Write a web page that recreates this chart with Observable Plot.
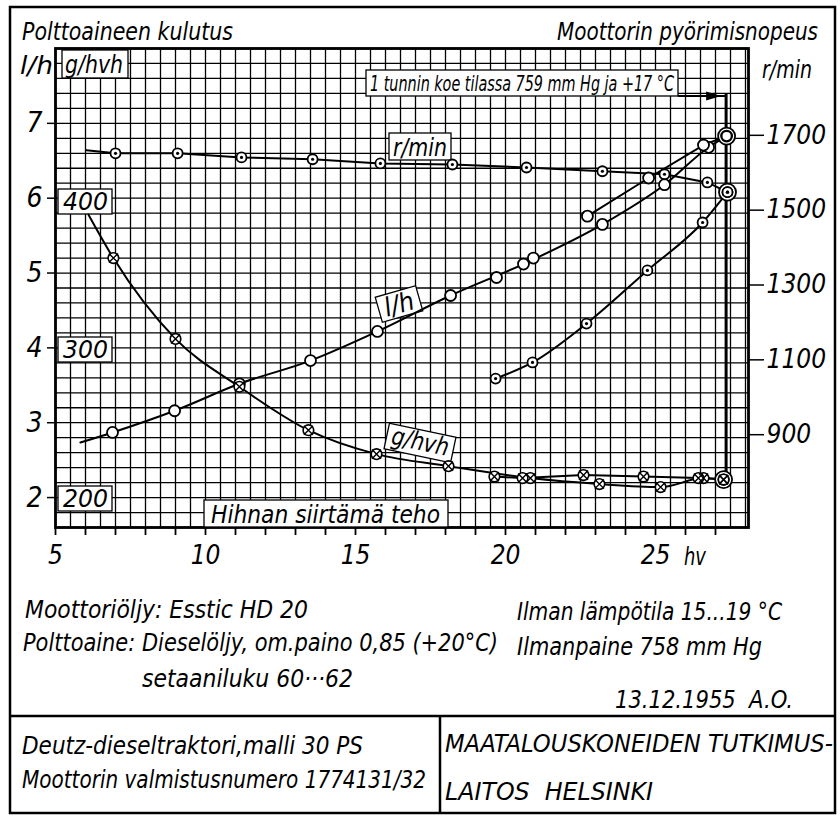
<!DOCTYPE html>
<html><head><meta charset="utf-8">
<script src="https://cdn.jsdelivr.net/npm/d3@7"></script>
<script src="https://cdn.jsdelivr.net/npm/@observablehq/plot@0.6"></script>
<style>
html,body{margin:0;padding:0;background:#fff;}
#chart{width:840px;height:821px;position:relative;overflow:hidden;}
</style></head><body><div id="chart"></div>
<script>
const FONT = "'Liberation Sans Narrow','DejaVu Sans Condensed','Liberation Sans','DejaVu Sans',sans-serif";

// ---- data (x = Hihnan siirtämä teho, hv) ----
// governed-speed runs
const hvRpmGov = [7.0, 9.07, 11.2, 13.57, 15.83, 18.23, 20.7, 23.23, 25.3, 26.73, 27.4];
const rpmGov   = [1652, 1652, 1641, 1636, 1625, 1622, 1614, 1604, 1596, 1574, 1548];
const hvLhGov  = [6.9, 8.97, 11.13, 13.5, 15.73, 18.17, 20.6, 23.23, 25.3, 26.77, 27.37];
const lhGov    = [2.87, 3.16, 3.52, 3.83, 4.22, 4.70, 5.12, 5.65, 6.18, 6.68, 6.83];
const hvGGov   = [6.93, 9.0, 11.13, 13.43, 15.7, 18.1, 20.83, 23.13, 25.17, 26.6, 27.27];
const gGov     = [360, 306, 274, 245, 229, 221, 213, 209, 207, 213, 212];
// full-throttle runs at reduced speed
const hvRpmFull = [19.67, 20.9, 22.7, 24.73, 26.57, 27.4];
const rpmFull   = [1050, 1093, 1197, 1339, 1467, 1548];
const hvLhFull  = [19.7, 20.93, 22.73, 24.77, 26.6, 27.37];
const lhFull    = [4.94, 5.2, 5.76, 6.27, 6.71, 6.83];
const hvGFull   = [19.63, 20.57, 22.6, 24.6, 26.43, 27.27];
const gFull     = [214, 213, 215, 214, 213, 212];
// where the drawn curves begin (hv, value)
const rpmStart = [6.03, 1660];
const lhStart  = [5.83, 2.735];
const gStart   = [6.1, 389];
// tick labels
const lhTicks  = [2, 3, 4, 5, 6, 7];
const rpmTicks = [900, 1100, 1300, 1500, 1700];
const gTicks   = [200, 300, 400];
const hvTicks  = [5, 10, 15, 20, 25];

// common vertical unit = l/h ; the other two scales are linear maps of it
const rpmToLh = r => (r - 332) / 200;
const gToLh = g => (g - 100) / 50;
const ident = d => d;
const table = (xs, ys, f) => xs.map((x, i) => ({hv: x, y: f(ys[i])}));

const rpmGovRows = table(hvRpmGov, rpmGov, rpmToLh);
const rpmFullRows = table(hvRpmFull, rpmFull, rpmToLh);
const lhGovRows = table(hvLhGov, lhGov, ident);
const lhFullRows = table(hvLhFull, lhFull, ident);
const gGovRows = table(hvGGov, gGov, gToLh);
const gFullRows = table(hvGFull, gFull, gToLh);

const rpmGovLine = [{hv: rpmStart[0], y: rpmToLh(rpmStart[1])}, ...rpmGovRows];
const lhGovLine = [{hv: lhStart[0], y: lhStart[1]}, ...lhGovRows];
const gGovLine = [{hv: gStart[0], y: gToLh(gStart[1])}, ...gGovRows];
const last = a => a[a.length - 1];

const L = {x: "hv", y: "y", stroke: "#000", strokeWidth: 2, curve: "monotone-x"};
const rpmDots = [...rpmGovRows.slice(0, -1), ...rpmFullRows];
const lhDots = [...lhGovRows.slice(0, -1), ...lhFullRows];
const gDots = [...gGovRows.slice(0, -1), ...gFullRows];

const chart = Plot.plot({
  width: 840, height: 821,
  marginLeft: 55, marginRight: 92, marginTop: 48, marginBottom: 294,
  x: {domain: [5, 28.1]},
  y: {domain: [1.6, 8.0]},
  style: {fontFamily: FONT, fontStyle: "italic", background: "#fff", color: "#000", overflow: "visible"},
  marks: [
    Plot.gridX({ticks: d3.range(5, 28.01, 0.5), stroke: "#000", strokeOpacity: 1, strokeWidth: 1.3}),
    Plot.gridY({ticks: d3.range(16, 81, 2).map(d => d / 10), stroke: "#000", strokeOpacity: 1, strokeWidth: 1.3}),
    Plot.frame({stroke: "#000", strokeWidth: 2.8}),
    Plot.axisY({anchor: "left", ticks: lhTicks, tickSize: 8, tickPadding: 5, fontSize: 28, fontStyle: "italic", tickFormat: d => String(d), label: null, strokeWidth: 1.5}),
    Plot.axisY({anchor: "right", ticks: rpmTicks.map(rpmToLh), tickSize: 15, tickPadding: 3, fontSize: 26, fontStyle: "italic", tickFormat: (d, i) => String(rpmTicks[i]), label: null, strokeWidth: 1.5}),
    Plot.axisX({ticks: d3.range(5, 28, 1), tickSize: 8, tickPadding: 10, fontSize: 26, fontStyle: "italic", tickFormat: d => hvTicks.includes(d) ? String(d) : "", label: null, strokeWidth: 1.8}),
    Plot.line(rpmGovLine, {...L, curve: "linear"}),
    Plot.line(rpmFullRows, L),
    Plot.line(lhGovLine, L),
    Plot.line(lhFullRows.slice(2), {...L, curve: "linear"}),
    Plot.line(gGovLine, L),
    Plot.line(gFullRows, {...L, curve: "linear"}),
    Plot.dot([last(rpmGovRows), last(lhGovRows), last(gGovRows)], {x: "hv", y: "y", r: 8.5, fill: "#fff", stroke: "#000", strokeWidth: 1.8}),
    Plot.dot(lhDots, {x: "hv", y: "y", r: 5.5, fill: "#fff", stroke: "#000", strokeWidth: 1.8}),
    Plot.dot([last(lhGovRows)], {x: "hv", y: "y", r: 5, fill: "#fff", stroke: "#000", strokeWidth: 1.8}),
    Plot.dot([...rpmDots, last(rpmGovRows)], {x: "hv", y: "y", r: 5, fill: "#fff", stroke: "#000", strokeWidth: 1.8}),
    Plot.dot([...rpmDots, last(rpmGovRows)], {x: "hv", y: "y", r: 1.6, fill: "#000"}),
    Plot.dot([...gDots, last(gGovRows)], {x: "hv", y: "y", r: 5.3, fill: "#fff", stroke: "#000", strokeWidth: 1.6}),
    Plot.dot([...gDots, last(gGovRows)], {x: "hv", y: "y", r: 4.2, symbol: "times", stroke: "#000", strokeWidth: 1.4})
  ]
});
document.getElementById("chart").appendChild(chart);

const sx = chart.scale("x"), sy = chart.scale("y");
const NS = "http://www.w3.org/2000/svg";
const firstLine = chart.querySelector('g[aria-label="line"]');
const boxes = d3.select(chart.insertBefore(document.createElementNS(NS, "g"), firstLine));
const over = d3.select(chart).append("g");

function txt(g, s, x, y, size, len, anchor) {
  const t = g.append("text").attr("x", x).attr("y", y).attr("font-size", size)
    .attr("font-family", FONT).attr("font-style", "italic").attr("fill", "#000")
    .attr("text-anchor", anchor || "start").text(s);
  if (len) t.attr("textLength", len).attr("lengthAdjust", "spacingAndGlyphs");
  return t;
}
function box(g, x, y, w, h) {
  return g.append("rect").attr("x", x).attr("y", y).attr("width", w).attr("height", h)
    .attr("fill", "#fff").attr("stroke", "#000").attr("stroke-width", 1.3);
}

// boxed scale labels inside the grid
box(boxes, 62, 50, 66, 28); txt(boxes, "g/hvh", 65, 73, 25, 58);
const gBoxY = {400: 189, 300: 337, 200: 486};
gTicks.forEach(g => { box(boxes, 58, gBoxY[g], 54, 25); txt(boxes, String(g), 63, gBoxY[g] + 21, 25, 45); });
box(boxes, 204, 500, 244, 27); txt(boxes, "Hihnan siirtämä teho", 211, 523, 25, 229);
box(boxes, 389, 133, 62, 27); txt(boxes, "r/min", 393, 156, 25, 54);
const lhLab = boxes.append("g").attr("transform", "translate(399,304) rotate(-16)");
box(lhLab, -21, -13, 42, 26); txt(lhLab, "l/h", 0, 9, 26, 30, "middle");
const gLab = boxes.append("g").attr("transform", "translate(420,443) rotate(12)");
box(gLab, -34, -13, 68, 26); txt(gLab, "g/hvh", 0, 7, 25, 58, "middle");

// test-run note with arrow and the full-load line
box(boxes, 366, 70, 312, 26);
txt(boxes, "1 tunnin koe tilassa 759 mm Hg ja +17 °C", 370, 91, 21, 304);
const xEnd = sx.apply(last(hvLhGov));
boxes.append("line").attr("x1", 678).attr("x2", xEnd).attr("y1", 96).attr("y2", 96).attr("stroke", "#000").attr("stroke-width", 2);
boxes.append("path").attr("d", `M${xEnd - 20},91.5L${xEnd - 5},96L${xEnd - 20},100.5Z`).attr("fill", "#000");
boxes.append("line").attr("x1", xEnd).attr("x2", xEnd).attr("y1", 94).attr("y2", sy.apply(gToLh(last(gGov))))
  .attr("stroke", "#000").attr("stroke-width", 3);

// titles and captions around the chart
txt(over, "Polttoaineen kulutus", 22, 40, 25, 211);
txt(over, "Moottorin pyörimisnopeus", 818, 40, 24, 261, "end");
txt(over, "r/min", 812, 78, 25, 50, "end");
txt(over, "l/h", 20, 74, 25, 33);
txt(over, "hv", 684, 565, 25, 22);
txt(over, "Moottoriöljy: Esstic HD 20", 25, 618, 24, 283);
txt(over, "Polttoaine: Dieselöljy, om.paino 0,85 (+20°C)", 23, 651, 24, 475);
txt(over, "setaaniluku 60···62", 142, 687, 24, 211);
txt(over, "Ilman lämpötila 15...19 °C", 517, 620, 24, 265);
txt(over, "Ilmanpaine 758 mm Hg", 517, 655, 24, 245);
txt(over, "13.12.1955  A.O.", 793, 708, 24, 178, "end");
txt(over, "Deutz-dieseltraktori,malli 30 PS", 22, 754, 24, 341);
txt(over, "Moottorin valmistusnumero 1774131/32", 22, 788, 24, 404);
txt(over, "MAATALOUSKONEIDEN TUTKIMUS-", 445, 752, 24, 388);
txt(over, "LAITOS  HELSINKI", 445, 800, 24, 208);
over.append("rect").attr("x", 10).attr("y", 7).attr("width", 825).attr("height", 806)
  .attr("fill", "none").attr("stroke", "#000").attr("stroke-width", 2.5);
over.append("line").attr("x1", 10).attr("x2", 835).attr("y1", 716).attr("y2", 716).attr("stroke", "#000").attr("stroke-width", 2.5);
over.append("line").attr("x1", 440).attr("x2", 440).attr("y1", 716).attr("y2", 813).attr("stroke", "#000").attr("stroke-width", 2.5);
</script></body></html>
